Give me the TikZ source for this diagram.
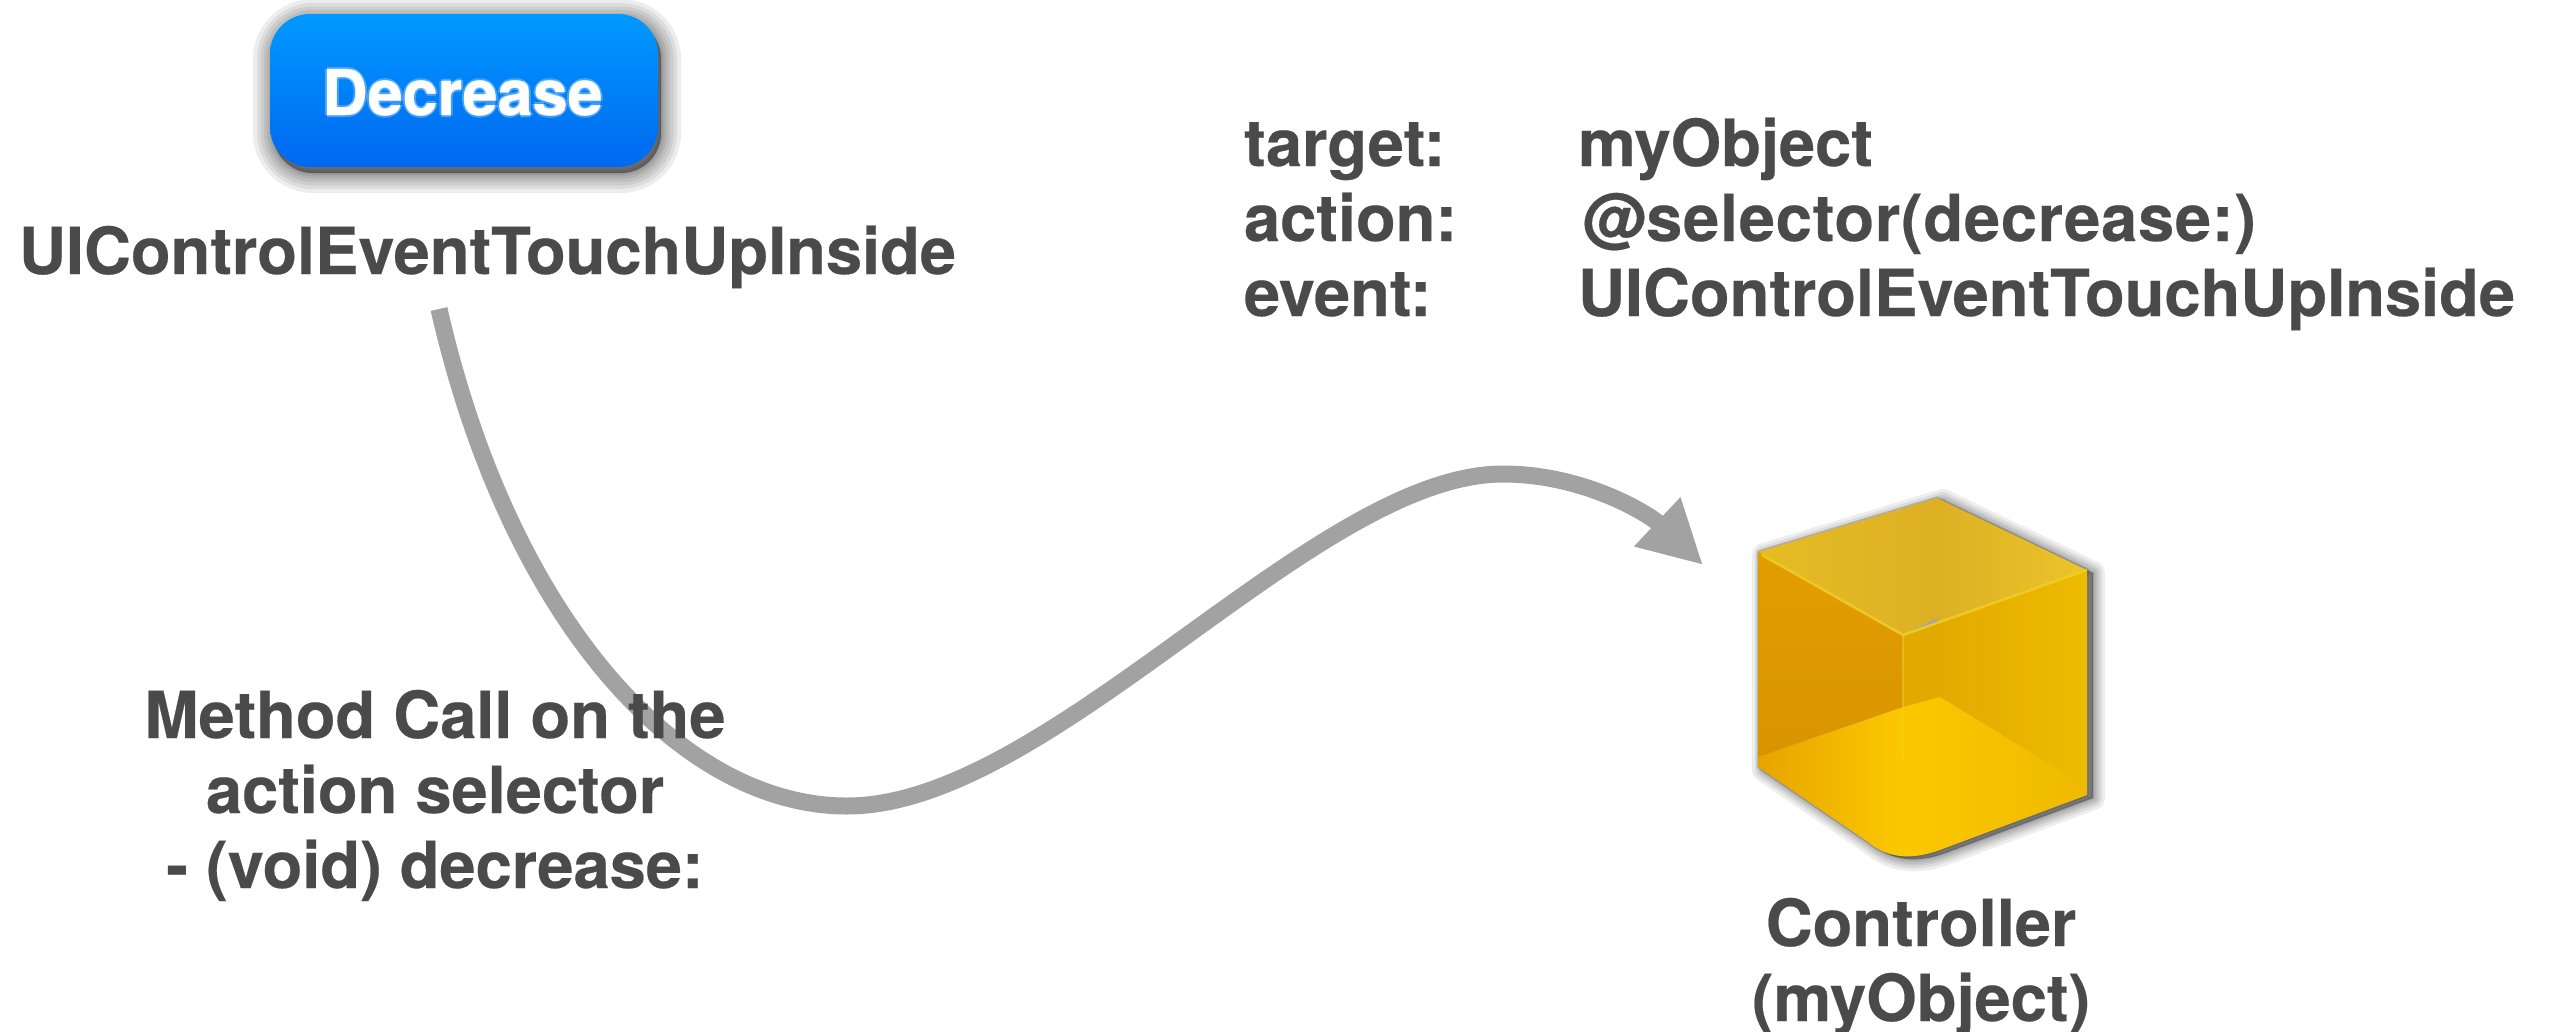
\documentclass[tikz,border=0pt]{standalone}
\usepackage{fontspec}
\setmainfont{TeX Gyre Heros}[BoldFeatures={FakeBold=0.35}]
\usetikzlibrary{arrows.meta,positioning}
\definecolor{ink}{HTML}{4A4A4A}
\definecolor{wire}{HTML}{A2A2A2}
\definecolor{btnTop}{HTML}{0099FF}
\definecolor{btnBot}{HTML}{0068F0}
\definecolor{cubeTopA}{HTML}{E6BC24}
\definecolor{cubeTopS}{HTML}{DDB024}
\definecolor{cubeTopB}{HTML}{EBC42A}
\definecolor{cubeL}{HTML}{E29E00}
\definecolor{cubeLd}{HTML}{D99400}
\definecolor{cubeR}{HTML}{EFBB00}
\definecolor{cubeRd}{HTML}{E2AA00}
\definecolor{cubeFl}{HTML}{E8A400}
\definecolor{cubeFm}{HTML}{FBC800}
\definecolor{cubeFr}{HTML}{EFBA00}
\definecolor{cubeEdge}{HTML}{F0D228}
\def\cubeoutline{(1758,552) -- (1937,498) -- (2087,570) -- (2087,795) -- (1945,848) .. controls (1915,860) and (1890,860) .. (1868,842) -- (1758,767) -- cycle}
\tikzset{
  lbl/.style={anchor=base west,inner sep=0pt,outer sep=0pt,text=ink,font=\fontsize{65}{75}\selectfont\bfseries},
  lblc/.style={lbl,anchor=base},
  flow/.style={draw=wire,line width=17pt,-{Triangle[length=63pt,width=63pt]}},
  btn/.style={rounded corners=40pt},
  softshadow/.style={black,opacity=0.07,fill=black,fill opacity=0.07,line join=round},
}
\begin{document}
\begin{tikzpicture}[x=1pt,y=-1pt]
\useasboundingbox (0,0) rectangle (2553,1031);
% button shadow
\foreach \w in {40,32,25,18,12,7,3}{
  \draw[softshadow,line width=\w pt,btn] (273,19) rectangle (661,173);
}
\shade[btn,top color=btnTop,bottom color=btnBot] (270,14) rectangle (658,167);
\foreach \dx/\dy in {-2/0,2/0,0/-2,0/2}{
  \node[anchor=base west,inner sep=0pt,text=white,opacity=0.25,font=\fontsize{63}{70}\selectfont] at (322+\dx,115+\dy) {\textbf{Decrease}};
}
\node[anchor=base west,inner sep=0pt,text=white,font=\fontsize{63}{70}\selectfont] (btnlabel) at (322,115) {\textbf{Decrease}};
% cube shadow
\foreach \w in {24,18,13,9,5,2}{
  \draw[softshadow,shift={(6,3)},line width=\w pt] \cubeoutline;
}
\draw[black,opacity=0.15,line width=3pt,line join=round] \cubeoutline;
% cube faces
\begin{scope}
\clip \cubeoutline;
\shade[left color=cubeTopA,right color=cubeTopS] (1758,552) -- (1937,498) -- (1937,618) -- (1903,635) -- cycle;
\shade[left color=cubeTopS,right color=cubeTopB] (1937,498) -- (2087,570) -- (1937,622) -- cycle;
\shade[top color=cubeL,bottom color=cubeLd] (1758,552) -- (1903,635) -- (1903,707) -- (1758,757) -- cycle;
\fill[cubeRd] (1903,635) -- (1940,622) -- (1940,697) -- (1903,707) -- cycle;
\shade[left color=cubeRd,right color=cubeR] (1938,622) -- (2087,570) -- (2087,787) -- (1938,697) -- cycle;
\shade[left color=cubeFl,right color=cubeFm] (1758,757) -- (1903,707) -- (1903,870) -- (1758,870) -- cycle;
\shade[left color=cubeFm,right color=cubeFr] (1903,707) -- (1940,697) -- (2087,787) -- (2087,870) -- (1903,870) -- cycle;
\end{scope}
\draw[cubeEdge,line width=2.5pt,opacity=0.8] (1762,555) -- (1903,635) -- (2087,570);
\draw[cubeEdge,line width=2.5pt,opacity=0.45] (1903,635) -- (1903,760);
% connector
\coordinate (flowstart) at (439,309);
\coordinate (flowtip) at (1703,565);
\draw[flow] (flowstart) .. controls (510,620) and (680,806) .. (847,806)
  .. controls (1050,806) and (1315,474) .. (1503,474)
  .. controls (1585,474) and (1650,515) .. (flowtip);
% labels
\node[lbl] (evt) at (19,274) {UIControlEventTouchUpInside};
\node[lbl] (t1) at (1244,166) {target:};
\node[lbl] (t2) at (1578,166) {myObject};
\node[lbl] (a1) at (1244,241) {action:};
\node[lbl,font=\fontsize{65}{75}\selectfont\bfseries\addfontfeature{LetterSpace=1.2}] (a2) at (1582,241) {@selector(decrease:)};
\node[lbl] (e1) at (1244,316) {event:};
\node[lbl] (e2) at (1578,316) {UIControlEventTouchUpInside};
\node[lblc] (m1) at (435,738) {Method Call on the};
\node[lblc] (m2) at (435,813) {action selector};
\node[lblc] (m3) at (435,888) {- (void) decrease:};
\node[lblc] (c1) at (1921,946) {Controller};
\node[lblc] (c2) at (1921,1021) {(myObject)};
\end{tikzpicture}
\end{document}
